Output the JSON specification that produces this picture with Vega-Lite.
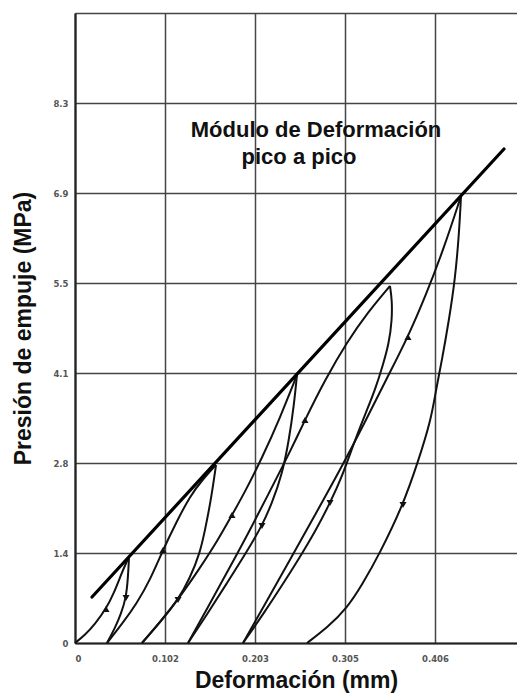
{
  "$schema": "https://vega.github.io/schema/vega-lite/v6.json",
  "width": 442,
  "height": 630,
  "autosize": {"type": "none"},
  "padding": {"left": 75, "top": 13, "right": 0, "bottom": 53},
  "background": "white",
  "config": {
    "view": {"stroke": null},
    "axis": {
      "grid": true,
      "gridColor": "#454545",
      "gridWidth": 1.5,
      "domainColor": "#222",
      "domainWidth": 2.2,
      "ticks": false,
      "tickSize": 0,
      "labelFont": "DejaVu Sans",
      "labelFontSize": 8.5,
      "labelFontWeight": "bold",
      "labelColor": "#555",
      "titleFont": "Liberation Sans",
      "titleFontSize": 23,
      "titleFontWeight": "bold",
      "titleColor": "#111"
    }
  },
  "datasets": {
    "curves": [
      {"c": "L1", "i": 0, "x": 0, "y": 0},
      {"c": "L1", "i": 1, "x": 0.0113, "y": 0.123},
      {"c": "L1", "i": 2, "x": 0.0226, "y": 0.291},
      {"c": "L1", "i": 3, "x": 0.035, "y": 0.521},
      {"c": "L1", "i": 4, "x": 0.044, "y": 0.766},
      {"c": "L1", "i": 5, "x": 0.0519, "y": 1.042},
      {"c": "L1", "i": 6, "x": 0.0576, "y": 1.226},
      {"c": "L1", "i": 7, "x": 0.061, "y": 1.318},
      {"c": "U1", "i": 0, "x": 0.061, "y": 1.318},
      {"c": "U1", "i": 1, "x": 0.0598, "y": 0.996},
      {"c": "U1", "i": 2, "x": 0.0576, "y": 0.689},
      {"c": "U1", "i": 3, "x": 0.0519, "y": 0.444},
      {"c": "U1", "i": 4, "x": 0.0452, "y": 0.23},
      {"c": "U1", "i": 5, "x": 0.0361, "y": 0},
      {"c": "L2", "i": 0, "x": 0.0361, "y": 0},
      {"c": "L2", "i": 1, "x": 0.0531, "y": 0.291},
      {"c": "L2", "i": 2, "x": 0.07, "y": 0.613},
      {"c": "L2", "i": 3, "x": 0.0847, "y": 0.965},
      {"c": "L2", "i": 4, "x": 0.0993, "y": 1.425},
      {"c": "L2", "i": 5, "x": 0.114, "y": 1.839},
      {"c": "L2", "i": 6, "x": 0.1298, "y": 2.252},
      {"c": "L2", "i": 7, "x": 0.1445, "y": 2.513},
      {"c": "L2", "i": 8, "x": 0.1592, "y": 2.727},
      {"c": "U2", "i": 0, "x": 0.1592, "y": 2.727},
      {"c": "U2", "i": 1, "x": 0.1535, "y": 2.191},
      {"c": "U2", "i": 2, "x": 0.1468, "y": 1.731},
      {"c": "U2", "i": 3, "x": 0.1411, "y": 1.379},
      {"c": "U2", "i": 4, "x": 0.1298, "y": 0.996},
      {"c": "U2", "i": 5, "x": 0.1163, "y": 0.659},
      {"c": "U2", "i": 6, "x": 0.0982, "y": 0.352},
      {"c": "U2", "i": 7, "x": 0.0756, "y": 0},
      {"c": "L3", "i": 0, "x": 0.0756, "y": 0},
      {"c": "L3", "i": 1, "x": 0.096, "y": 0.322},
      {"c": "L3", "i": 2, "x": 0.1185, "y": 0.705},
      {"c": "L3", "i": 3, "x": 0.1411, "y": 1.149},
      {"c": "L3", "i": 4, "x": 0.1614, "y": 1.578},
      {"c": "L3", "i": 5, "x": 0.1772, "y": 1.961},
      {"c": "L3", "i": 6, "x": 0.1919, "y": 2.314},
      {"c": "L3", "i": 7, "x": 0.2111, "y": 2.835},
      {"c": "L3", "i": 8, "x": 0.2314, "y": 3.447},
      {"c": "L3", "i": 9, "x": 0.2506, "y": 4.106},
      {"c": "U3", "i": 0, "x": 0.2506, "y": 4.106},
      {"c": "U3", "i": 1, "x": 0.2472, "y": 3.647},
      {"c": "U3", "i": 2, "x": 0.2416, "y": 3.11},
      {"c": "U3", "i": 3, "x": 0.2337, "y": 2.574},
      {"c": "U3", "i": 4, "x": 0.2224, "y": 2.145},
      {"c": "U3", "i": 5, "x": 0.2111, "y": 1.793},
      {"c": "U3", "i": 6, "x": 0.193, "y": 1.379},
      {"c": "U3", "i": 7, "x": 0.1716, "y": 0.919},
      {"c": "U3", "i": 8, "x": 0.1501, "y": 0.46},
      {"c": "U3", "i": 9, "x": 0.1276, "y": 0},
      {"c": "L4", "i": 0, "x": 0.1276, "y": 0},
      {"c": "L4", "i": 1, "x": 0.1501, "y": 0.552},
      {"c": "L4", "i": 2, "x": 0.1738, "y": 1.134},
      {"c": "L4", "i": 3, "x": 0.1976, "y": 1.731},
      {"c": "L4", "i": 4, "x": 0.2201, "y": 2.329},
      {"c": "L4", "i": 5, "x": 0.2427, "y": 2.927},
      {"c": "L4", "i": 6, "x": 0.2596, "y": 3.417},
      {"c": "L4", "i": 7, "x": 0.2822, "y": 4.03},
      {"c": "L4", "i": 8, "x": 0.3071, "y": 4.612},
      {"c": "L4", "i": 9, "x": 0.3308, "y": 5.072},
      {"c": "L4", "i": 10, "x": 0.3556, "y": 5.47},
      {"c": "U4", "i": 0, "x": 0.3556, "y": 5.47},
      {"c": "U4", "i": 1, "x": 0.3579, "y": 5.256},
      {"c": "U4", "i": 2, "x": 0.3579, "y": 4.949},
      {"c": "U4", "i": 3, "x": 0.3545, "y": 4.597},
      {"c": "U4", "i": 4, "x": 0.3477, "y": 4.26},
      {"c": "U4", "i": 5, "x": 0.3387, "y": 3.876},
      {"c": "U4", "i": 6, "x": 0.3296, "y": 3.57},
      {"c": "U4", "i": 7, "x": 0.3161, "y": 3.11},
      {"c": "U4", "i": 8, "x": 0.3014, "y": 2.543},
      {"c": "U4", "i": 9, "x": 0.2879, "y": 2.145},
      {"c": "U4", "i": 10, "x": 0.2721, "y": 1.731},
      {"c": "U4", "i": 11, "x": 0.254, "y": 1.318},
      {"c": "U4", "i": 12, "x": 0.2348, "y": 0.904},
      {"c": "U4", "i": 13, "x": 0.2134, "y": 0.46},
      {"c": "U4", "i": 14, "x": 0.1897, "y": 0},
      {"c": "L5", "i": 0, "x": 0.1897, "y": 0},
      {"c": "L5", "i": 1, "x": 0.2145, "y": 0.598},
      {"c": "L5", "i": 2, "x": 0.2427, "y": 1.272},
      {"c": "L5", "i": 3, "x": 0.2709, "y": 1.961},
      {"c": "L5", "i": 4, "x": 0.2992, "y": 2.651},
      {"c": "L5", "i": 5, "x": 0.3274, "y": 3.386},
      {"c": "L5", "i": 6, "x": 0.3522, "y": 4.06},
      {"c": "L5", "i": 7, "x": 0.3759, "y": 4.689},
      {"c": "L5", "i": 8, "x": 0.3962, "y": 5.332},
      {"c": "L5", "i": 9, "x": 0.4166, "y": 6.052},
      {"c": "L5", "i": 10, "x": 0.4358, "y": 6.849},
      {"c": "U5", "i": 0, "x": 0.4358, "y": 6.849},
      {"c": "U5", "i": 1, "x": 0.4335, "y": 6.251},
      {"c": "U5", "i": 2, "x": 0.429, "y": 5.562},
      {"c": "U5", "i": 3, "x": 0.4222, "y": 4.949},
      {"c": "U5", "i": 4, "x": 0.4143, "y": 4.336},
      {"c": "U5", "i": 5, "x": 0.4075, "y": 3.876},
      {"c": "U5", "i": 6, "x": 0.4019, "y": 3.417},
      {"c": "U5", "i": 7, "x": 0.3872, "y": 2.773},
      {"c": "U5", "i": 8, "x": 0.3703, "y": 2.114},
      {"c": "U5", "i": 9, "x": 0.3443, "y": 1.379},
      {"c": "U5", "i": 10, "x": 0.324, "y": 0.889},
      {"c": "U5", "i": 11, "x": 0.3071, "y": 0.536},
      {"c": "U5", "i": 12, "x": 0.2856, "y": 0.245},
      {"c": "U5", "i": 13, "x": 0.2619, "y": 0}
    ],
    "envelope": [
      {"x": 0.0192, "y": 0.705},
      {"x": 0.4843, "y": 7.569}
    ],
    "arrows": [
      {"x": 0.035, "y": 0.521, "dir": "up"},
      {"x": 0.0576, "y": 0.689, "dir": "down"},
      {"x": 0.0993, "y": 1.425, "dir": "up"},
      {"x": 0.1163, "y": 0.659, "dir": "down"},
      {"x": 0.1772, "y": 1.961, "dir": "up"},
      {"x": 0.2111, "y": 1.793, "dir": "down"},
      {"x": 0.2596, "y": 3.417, "dir": "up"},
      {"x": 0.2879, "y": 2.145, "dir": "down"},
      {"x": 0.3759, "y": 4.689, "dir": "up"},
      {"x": 0.3703, "y": 2.114, "dir": "down"}
    ],
    "notes": [
      {"x": 0.2721, "y": 7.753, "text": "Módulo de Deformación"},
      {"x": 0.2529, "y": 7.34, "text": "pico a pico"}
    ]
  },
  "encoding": {
    "x": {
      "field": "x",
      "type": "quantitative",
      "scale": {"domain": [0, 0.499], "nice": false, "zero": false},
      "axis": {
        "title": "Deformación (mm)",
        "values": [0, 0.1016, 0.2032, 0.3048, 0.4064],
        "labelExpr": "datum.value == 0 ? '0' : format(datum.value, '.3f')",
        "labelPadding": 11,
        "titlePadding": 7
      }
    },
    "y": {
      "field": "y",
      "type": "quantitative",
      "scale": {"domain": [0, 9.653], "nice": false, "zero": false},
      "axis": {
        "title": "Presión de empuje (MPa)",
        "values": [0, 1.379, 2.758, 4.137, 5.516, 6.895, 8.274, 9.653],
        "labelExpr": "datum.value == 0 ? '0' : datum.value > 9 ? '' : format(datum.value, '.1f')",
        "labelPadding": 7,
        "titlePadding": 17
      }
    }
  },
  "layer": [
    {
      "data": {"name": "curves"},
      "mark": {"type": "line", "color": "#111", "strokeWidth": 2, "interpolate": "basis"},
      "encoding": {
        "detail": {"field": "c", "type": "nominal"},
        "order": {"field": "i", "type": "quantitative"}
      }
    },
    {
      "data": {"name": "envelope"},
      "mark": {"type": "line", "color": "#000", "strokeWidth": 3.2, "strokeCap": "round"},
      "encoding": {}
    },
    {
      "data": {"name": "arrows"},
      "mark": {"type": "point", "filled": true, "color": "#111", "opacity": 1, "size": 50},
      "encoding": {
        "shape": {
          "field": "dir",
          "type": "nominal",
          "scale": {"domain": ["up", "down"], "range": ["triangle-up", "triangle-down"]},
          "legend": null
        }
      }
    },
    {
      "data": {"name": "notes"},
      "mark": {"type": "text", "font": "Liberation Sans", "fontSize": 22, "fontWeight": "bold", "color": "#111", "align": "center", "baseline": "alphabetic"},
      "encoding": {"text": {"field": "text", "type": "nominal"}}
    }
  ]
}
